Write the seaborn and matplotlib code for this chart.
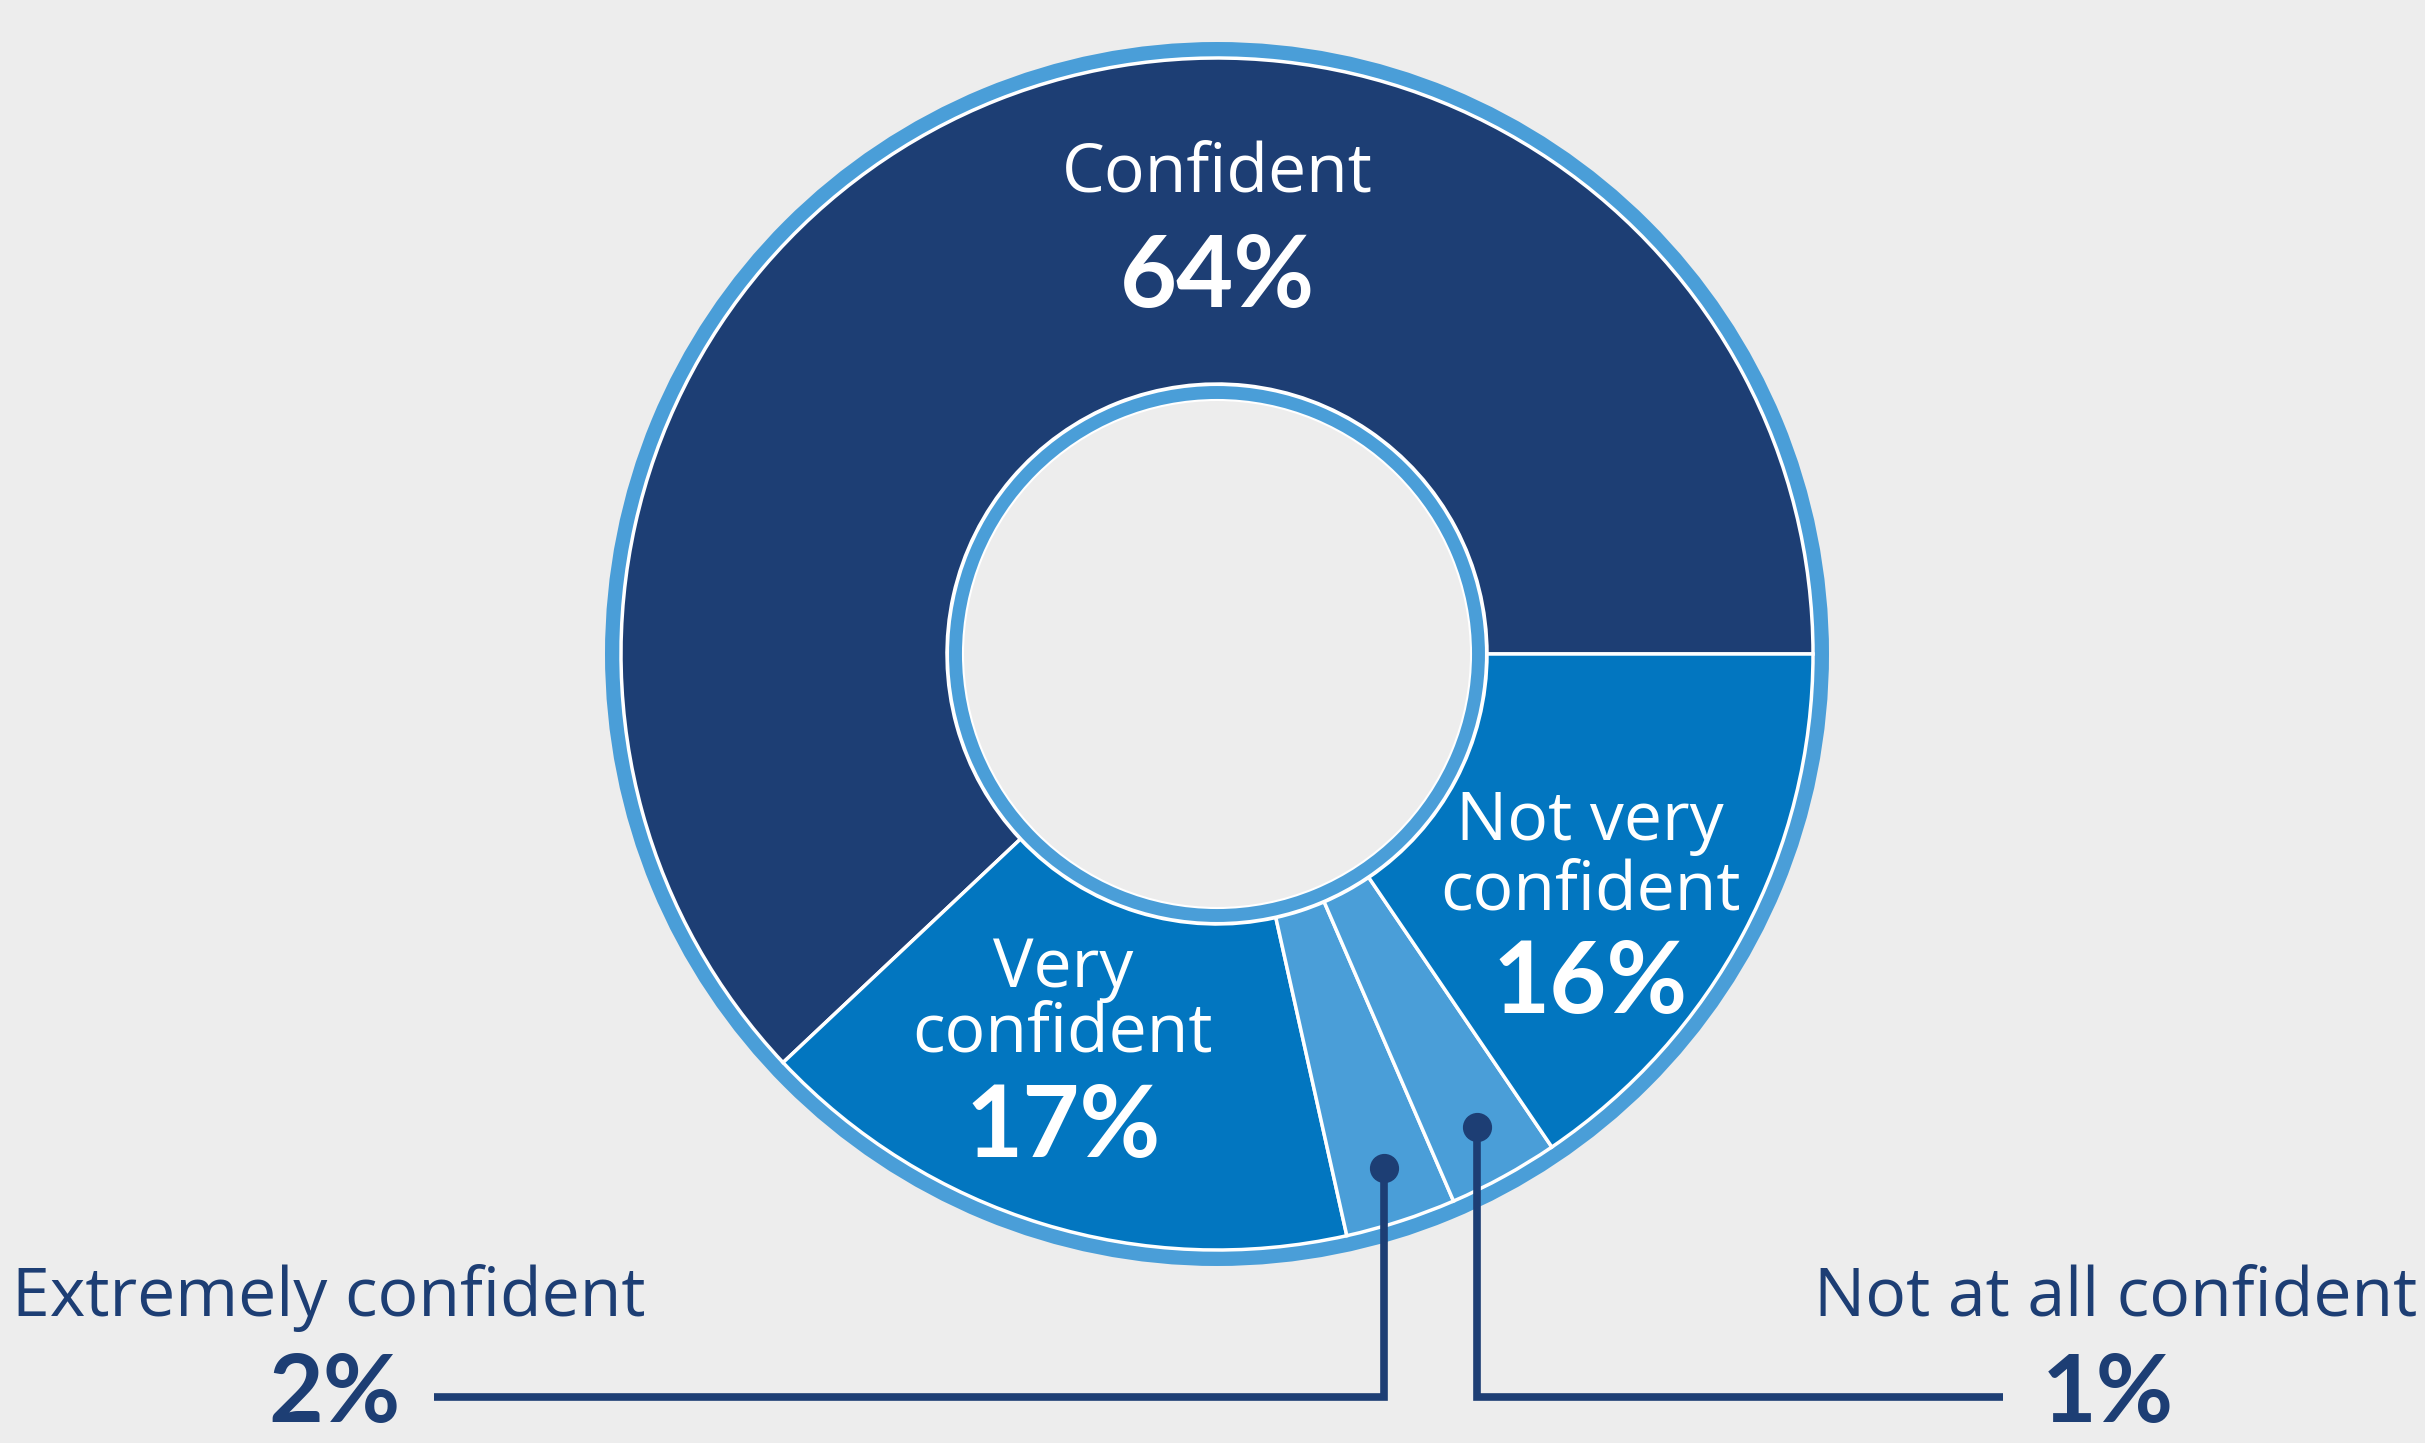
import numpy as np
import matplotlib.pyplot as plt
from matplotlib.patches import Wedge
import seaborn as sns

# survey answers, in the order they go round the ring (counter-clockwise from 3 o'clock)
answers = ["Confident", "Very confident", "Extremely confident",
           "Not at all confident", "Not very confident"]
shares = [64, 17, 2, 1, 16]
slice_colors = ["#1d3e74", "#0276c0", "#4a9ed8", "#4a9ed8", "#0276c0"]

NAVY = "#1d3e74"
LIGHT = "#4a9ed8"
PAPER = "#ededed"

# the original graphic blows tiny slices up to a minimum size so they stay visible
min_share = 3.0
n_small = sum(s < min_share for s in shares)
big_total = sum(s for s in shares if s >= min_share)
drawn = [min_share if s < min_share else s * (100 - min_share * n_small) / big_total
         for s in shares]

sns.set_theme(style="white")
plt.rcParams["font.family"] = ["Open Sans", "DejaVu Sans"]
PCT_FONT = ["Lato", "DejaVu Sans"]

W, H = 2425, 1443
fig = plt.figure(figsize=(W / 100, H / 100), dpi=100)
fig.patch.set_facecolor(PAPER)
ax = fig.add_axes([0, 0, 1, 1])
ax.set_facecolor(PAPER)


def yy(y_img):
    # work in image pixels, y measured from the top
    return H - y_img


cx, cy = 1217, yy(654)
r_out, r_in = 596, 270

# light blue rim outside and inside the donut
ax.add_patch(Wedge((cx, cy), 612, 0, 360, width=15, facecolor=LIGHT,
                   edgecolor="none", zorder=1))

wedges, _ = ax.pie(drawn, radius=r_out, center=(cx, cy), startangle=0,
                   counterclock=True, colors=slice_colors,
                   wedgeprops=dict(width=r_out - r_in, edgecolor="white",
                                   linewidth=2.5, zorder=2))

ax.add_patch(Wedge((cx, cy), r_in - 1, 0, 360, width=15, facecolor=LIGHT,
                   edgecolor="white", linewidth=1.5, zorder=3))

ax.set_xlim(0, W)
ax.set_ylim(0, H)
ax.set_aspect("equal")
ax.axis("off")

lab_size = 49
pct_size = 71

# labels inside the slices
inside = [
    (1217, ["Confident"], [192], "64%", 307),
    (1063, ["Very", "confident"], [987, 1052], "17%", 1157),
    (1590, ["Not very", "confident"], [840, 909], "16%", 1013),
]
for x, lines, ys, pct, py in inside:
    for line, y in zip(lines, ys):
        ax.text(x, yy(y), line, color="white", fontsize=lab_size,
                ha="center", va="baseline", zorder=5)
    ax.text(x, yy(py), pct, color="white", fontsize=pct_size, family=PCT_FONT,
            fontweight="bold", ha="center", va="baseline", zorder=5)

# small slices are labelled outside with leader lines
line_y = yy(1397)
dot_r = 540
outside = [
    (2, 434, 12, "left", 335),
    (3, 2003, 2417, "right", 2108),
]
for i, line_end, text_x, align, pct_x in outside:
    w = wedges[i]
    mid = np.deg2rad((w.theta1 + w.theta2) / 2)
    dx = cx + dot_r * np.cos(mid)
    dy = cy + dot_r * np.sin(mid)
    ax.plot([line_end, dx, dx], [line_y, line_y, dy], color=NAVY, lw=5.5,
            solid_joinstyle="miter", solid_capstyle="butt", zorder=6)
    ax.plot(dx, dy, "o", ms=20, color=NAVY, zorder=7)
    ax.text(text_x, yy(1316), answers[i], color=NAVY, fontsize=lab_size,
            ha=align, va="baseline", zorder=5)
    ax.text(pct_x, yy(1422), f"{shares[i]}%", color=NAVY, fontsize=68,
            family=PCT_FONT, fontweight="bold", ha="center", va="baseline",
            zorder=5)

fig.savefig("out.png", dpi=100, facecolor=PAPER)
